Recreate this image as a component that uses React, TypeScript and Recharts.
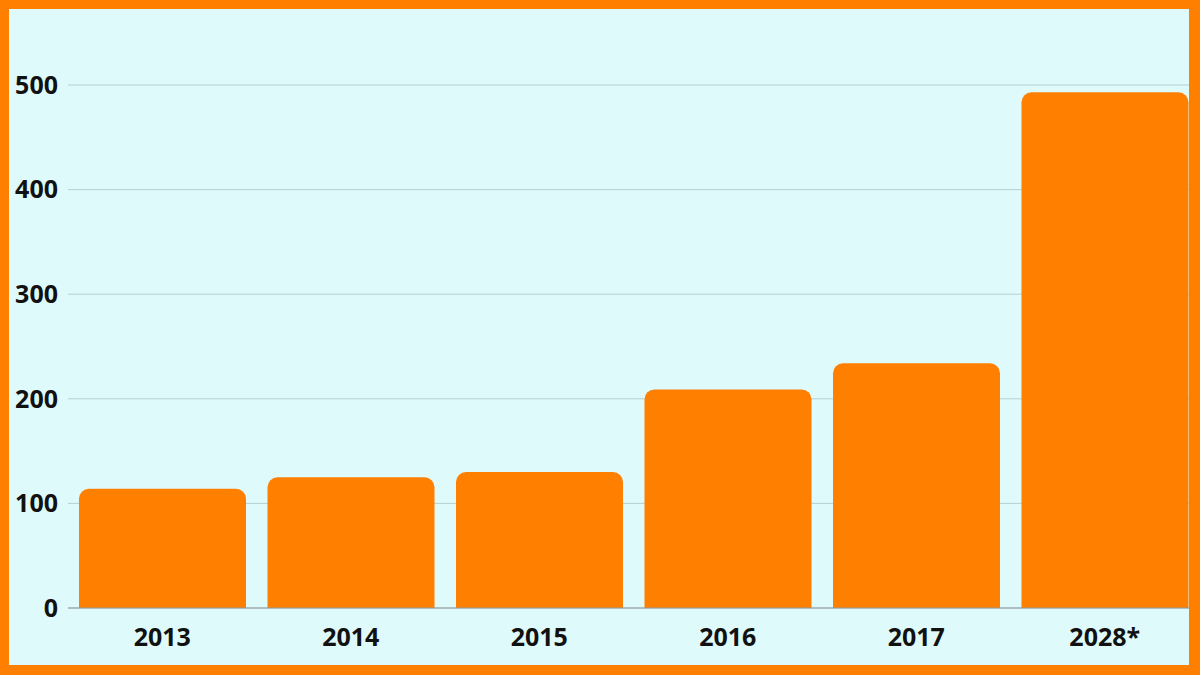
import React from "react";
import { BarChart, Bar, XAxis, YAxis, CartesianGrid } from "recharts";

const categories = ["2013", "2014", "2015", "2016", "2017", "2028*"];
const values = [114, 125, 130, 209, 234, 493];
const yTicks = [0, 100, 200, 300, 400, 500];

const data = categories.map((c, i) => ({ year: c, value: values[i] }));

const tickStyle = {
  fontFamily: "'Open Sans', 'Noto Sans', sans-serif",
  fontWeight: 700,
  fontSize: 25,
  fill: "#111111",
};

export default function App() {
  return (
    <div style={{ position: "absolute", left: 0, top: 0, width: 1200, height: 675, background: "#ff7f00" }}>
      <div style={{ position: "absolute", left: 9, top: 9, width: 1180, height: 656, background: "#dffafa" }} />
      <div style={{ position: "absolute", left: 0, top: 0 }}>
        <BarChart
          width={1200}
          height={675}
          data={data}
          margin={{ top: 85, right: 1, bottom: 0, left: 0 }}
          barCategoryGap={11}
        >
          <CartesianGrid vertical={false} stroke="#b7cfd2" strokeWidth={1} />
          <XAxis
            dataKey="year"
            height={67}
            tickLine={false}
            tickSize={0}
            tickMargin={20}
            axisLine={{ stroke: "#8f9a9c", strokeWidth: 1 }}
            tick={tickStyle}
            interval={0}
          />
          <YAxis
            width={68}
            domain={[0, 500]}
            ticks={yTicks}
            tickLine={false}
            tickSize={0}
            tickMargin={10}
            axisLine={false}
            tick={tickStyle}
          />
          <Bar dataKey="value" fill="#ff7f00" radius={[10, 10, 0, 0]} isAnimationActive={false} />
        </BarChart>
      </div>
      <div style={{ position: "absolute", left: 1189, top: 0, width: 11, height: 675, background: "#ff7f00" }} />
    </div>
  );
}
